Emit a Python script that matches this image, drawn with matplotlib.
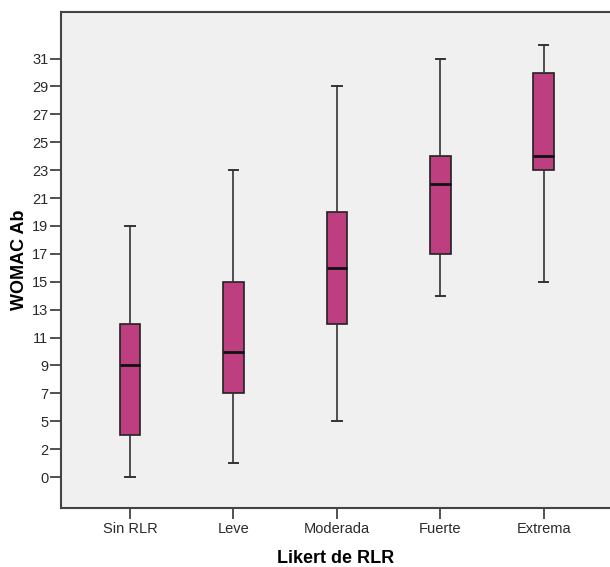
import matplotlib
matplotlib.use("Agg")
import matplotlib.pyplot as plt
import numpy as np

# categories and box statistics
categorias = ["Sin RLR", "Leve", "Moderada", "Fuerte", "Extrema"]
bigote_min = [0, 1, 5, 14, 15]
q1 = [3.5, 7, 12, 17, 23]
mediana = [9, 10, 16, 22, 24]
q3 = [12, 15, 20, 24, 30]
bigote_max = [19, 23, 29, 31, 32]

# SPSS-like axis: labelled values are evenly spaced
etiquetas_y = [0, 2, 5, 7, 9, 11, 13, 15, 17, 19, 21, 23, 25, 27, 29, 31]

knots = np.array(etiquetas_y, dtype=float)
idx = np.arange(len(knots), dtype=float)


def forward(v):
    v = np.asarray(v, dtype=float)
    out = np.interp(v, knots, idx)
    out = np.where(v < knots[0], (v - knots[0]) / 2.0, out)
    out = np.where(v > knots[-1], idx[-1] + (v - knots[-1]) / 2.0, out)
    return out


def inverse(p):
    p = np.asarray(p, dtype=float)
    out = np.interp(p, idx, knots)
    out = np.where(p < idx[0], knots[0] + (p - idx[0]) * 2.0, out)
    out = np.where(p > idx[-1], knots[-1] + (p - idx[-1]) * 2.0, out)
    return out


stats = []
for i, c in enumerate(categorias):
    stats.append({"label": c, "whislo": bigote_min[i], "q1": q1[i], "med": mediana[i],
                  "q3": q3[i], "whishi": bigote_max[i], "fliers": []})

fig = plt.figure(figsize=(6.1, 5.67), dpi=100)
ax = fig.add_axes([61 / 610, 1 - 508 / 567, 1 - 61 / 610, (508 - 12) / 567])
ax.set_facecolor("#f0f0f0")
ax.set_yscale("function", functions=(forward, inverse))

pos = np.arange(1, len(categorias) + 1)
ax.bxp(stats, positions=pos, widths=0.2, patch_artist=True, showfliers=False,
       capwidths=0.09,
       boxprops=dict(facecolor="#bd3f80", edgecolor="#222222", linewidth=1.2),
       medianprops=dict(color="#111111", linewidth=2),
       whiskerprops=dict(color="#333333", linewidth=1.2),
       capprops=dict(color="#333333", linewidth=1.4))

ax.set_xlim(0.333, 5.64)
ax.set_ylim(inverse(-1.11), inverse(16.67))
ax.set_yticks(etiquetas_y)
ax.set_yticklabels([str(v) for v in etiquetas_y])
ax.minorticks_off()
ax.set_xticks(pos)
ax.set_xticklabels(categorias)

ax.tick_params(axis="both", direction="out", length=8, width=1.2, color="#333333",
               labelsize=10.5, labelcolor="#2a2a2a")
ax.tick_params(axis="y", pad=1)
ax.tick_params(axis="x", pad=2)

for s in ["left", "bottom", "top"]:
    ax.spines[s].set_color("#444444")
    ax.spines[s].set_linewidth(1.5)
ax.spines["right"].set_visible(False)

ax.set_xlabel("Likert de RLR", fontsize=13, fontweight="bold", labelpad=10)
ax.set_ylabel("WOMAC Ab", fontsize=13, fontweight="bold", labelpad=3)

plt.rcParams["font.family"] = ["Liberation Sans", "DejaVu Sans"]
for t in ax.get_xticklabels() + ax.get_yticklabels():
    t.set_family(["Liberation Sans", "DejaVu Sans"])
ax.xaxis.label.set_family(["Liberation Sans", "DejaVu Sans"])
ax.yaxis.label.set_family(["Liberation Sans", "DejaVu Sans"])

fig.savefig("out.png", dpi=100)
